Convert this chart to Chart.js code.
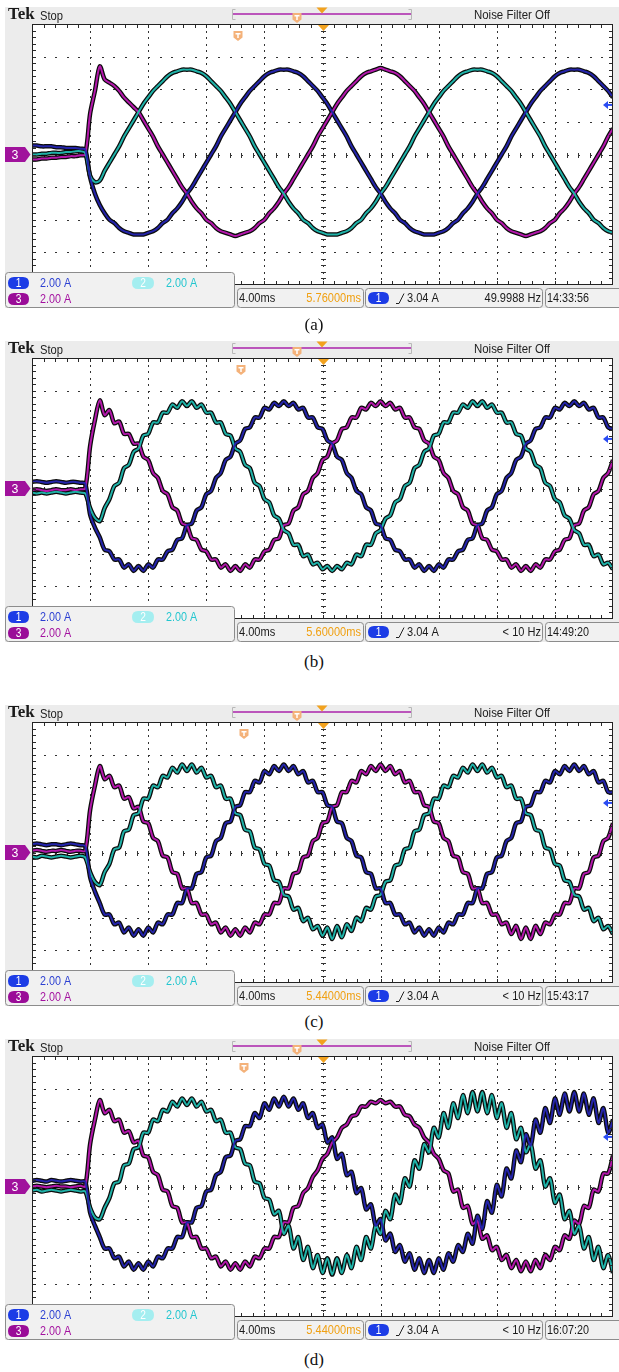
<!DOCTYPE html>
<html>
<head>
<meta charset="utf-8">
<script src="https://cdn.jsdelivr.net/npm/chart.js@4.4.1/dist/chart.umd.min.js"></script>
<style>
  body { margin: 0; background: #fff; }
  #page { position: relative; width: 619px; height: 1372px; overflow: hidden; }
  canvas { position: absolute; left: 0; }
  .cap { position: absolute; left: 0; width: 628px; text-align: center;
         font: 17px "Liberation Serif", "DejaVu Serif", serif; color: #111; line-height: 20px; }
</style>
</head>
<body>
<div id="page">
  <canvas id="scopeA" width="619" height="312" style="top:0px"></canvas>
  <canvas id="scopeB" width="619" height="312" style="top:334px"></canvas>
  <canvas id="scopeC" width="619" height="312" style="top:698px"></canvas>
  <canvas id="scopeD" width="619" height="312" style="top:1032px"></canvas>
  <div class="cap" style="top:315px">(a)</div>
  <div class="cap" style="top:652px">(b)</div>
  <div class="cap" style="top:1012px">(c)</div>
  <div class="cap" style="top:1350px">(d)</div>
</div>
<script>
// -------------------- Scope settings --------------------
const SAMPLE_MS = 1 / 3;          // one sample every 1/3 ms, 40 ms on screen
const panelIds = ["scopeA", "scopeB", "scopeC", "scopeD"];
const trigTimes = ["5.76000ms", "5.60000ms", "5.44000ms", "5.44000ms"];
const freqs = ["49.9988 Hz", "< 10 Hz", "< 10 Hz", "< 10 Hz"];
const clocks = ["14:33:56", "14:49:20", "15:43:17", "16:07:20"];
const trigMarks = [238, 241, 244, 244];

// -------------------- Phase currents, amps (2 A/div) --------------------
const blueA = [0.55,0.55,0.5,0.5,0.5,0.45,0.45,0.4,0.4,0.4,0.35,0.3,
  -1.4,-2.4,-3.1,-3.6,-4.0,-4.2,-4.5,-4.7,-4.8,-4.9,
  -4.9,-4.9,-4.8,-4.7,-4.5,-4.2,-4.0,-3.6,-3.3,-2.9,
  -2.4,-2.0,-1.5,-1.0,-0.5,0,0.5,1.1,1.6,2.1,
  2.6,3.1,3.5,3.9,4.2,4.5,4.8,5.0,5.1,5.2,
  5.2,5.2,5.1,5.0,4.8,4.5,4.2,3.9,3.5,3.1,
  2.6,2.1,1.6,1.1,0.5,0,-0.5,-1.0,-1.5,-2.0,
  -2.4,-2.9,-3.3,-3.6,-4.0,-4.2,-4.5,-4.7,-4.8,-4.9,
  -4.9,-4.9,-4.8,-4.7,-4.5,-4.2,-4.0,-3.6,-3.3,-2.9,
  -2.4,-2.0,-1.5,-1.0,-0.5,0,0.5,1.1,1.6,2.1,
  2.6,3.1,3.5,3.9,4.2,4.5,4.8,5.0,5.1,5.2,
  5.2,5.2,5.1,5.0,4.8,4.5,4.2,3.9,3.5];
const tealA = [0,0,0.05,0.05,0.1,0.1,0.1,0.15,0.15,0.2,0.2,0.1,
  -1.3,-1.7,-1.6,-1.0,-0.5,0,0.5,1.1,1.6,2.1,
  2.6,3.1,3.5,3.9,4.2,4.5,4.8,5.0,5.1,5.2,
  5.2,5.2,5.1,5.0,4.8,4.5,4.2,3.9,3.5,3.1,
  2.6,2.1,1.6,1.1,0.5,0,-0.5,-1.0,-1.5,-2.0,
  -2.4,-2.9,-3.3,-3.6,-4.0,-4.2,-4.5,-4.7,-4.8,-4.9,
  -4.9,-4.9,-4.8,-4.7,-4.5,-4.2,-4.0,-3.6,-3.3,-2.9,
  -2.4,-2.0,-1.5,-1.0,-0.5,0,0.5,1.1,1.6,2.1,
  2.6,3.1,3.5,3.9,4.2,4.5,4.8,5.0,5.1,5.2,
  5.2,5.2,5.1,5.0,4.8,4.5,4.2,3.9,3.5,3.1,
  2.6,2.1,1.6,1.1,0.5,0,-0.5,-1.0,-1.5,-2.0,
  -2.4,-2.9,-3.3,-3.6,-4.0,-4.2,-4.5,-4.7,-4.8];
const magA = [-0.3,-0.3,-0.25,-0.25,-0.2,-0.2,-0.15,-0.15,-0.1,-0.1,-0.05,0,
  2.5,3.9,5.4,4.6,4.4,4.2,3.9,3.5,3.2,2.9,
  2.6,2.1,1.6,1.1,0.5,0,-0.5,-1.0,-1.5,-2.0,
  -2.4,-2.9,-3.3,-3.6,-4.0,-4.2,-4.5,-4.7,-4.8,-4.9,
  -5.0,-4.9,-4.8,-4.7,-4.5,-4.2,-4.0,-3.6,-3.3,-2.9,
  -2.4,-2.0,-1.5,-1.0,-0.5,0,0.5,1.1,1.6,2.1,
  2.6,3.1,3.5,3.9,4.2,4.5,4.8,5.0,5.1,5.2,
  5.3,5.2,5.1,5.0,4.8,4.5,4.2,3.9,3.5,3.1,
  2.6,2.1,1.6,1.1,0.5,0,-0.5,-1.0,-1.5,-2.0,
  -2.4,-2.9,-3.3,-3.6,-4.0,-4.2,-4.5,-4.7,-4.8,-4.9,
  -5.0,-4.9,-4.8,-4.7,-4.5,-4.2,-4.0,-3.6,-3.3,-2.9,
  -2.4,-2.0,-1.5,-1.0,-0.5,0,0.5,1.1,1.6];

const blueB = [0.4,0.45,0.4,0.35,0.4,0.45,0.4,0.35,0.4,0.4,0.35,0.3,
  -1.6,-2.4,-3.0,-3.75,-3.85,-4.35,-4.35,-4.85,-4.65,-5.05,
  -4.75,-5.05,-4.65,-4.85,-4.35,-4.35,-3.85,-3.75,-3.15,-3.05,
  -2.25,-2.15,-1.35,-1.15,-0.35,-0.15,0.65,0.95,1.75,1.95,
  2.75,2.95,3.65,3.75,4.35,4.35,4.95,4.85,5.25,5.05,
  5.35,5.05,5.25,4.85,4.95,4.35,4.35,3.75,3.65,2.95,
  2.75,1.95,1.75,0.95,0.65,-0.15,-0.35,-1.15,-1.35,-2.15,
  -2.25,-3.05,-3.15,-3.75,-3.85,-4.35,-4.35,-4.85,-4.65,-5.05,
  -4.75,-5.05,-4.65,-4.85,-4.35,-4.35,-3.85,-3.75,-3.15,-3.05,
  -2.25,-2.15,-1.35,-1.15,-0.35,-0.15,0.65,0.95,1.75,1.95,
  2.75,2.95,3.65,3.75,4.35,4.35,4.95,4.85,5.25,5.05,
  5.35,5.05,5.25,4.85,4.95,4.35,4.35,3.75,3.65];
const tealB = [-0.25,-0.3,-0.25,-0.3,-0.25,-0.2,-0.25,-0.3,-0.25,-0.2,-0.25,-0.3,
  -1.2,-1.8,-2.0,-1.2,-0.65,0.15,0.35,1.25,1.45,2.25,
  2.45,3.25,3.35,4.05,4.05,4.65,4.65,5.15,4.95,5.35,
  5.05,5.35,4.95,5.15,4.65,4.65,4.05,4.05,3.35,3.25,
  2.45,2.25,1.45,1.25,0.35,0.15,-0.65,-0.85,-1.65,-1.85,
  -2.55,-2.75,-3.45,-3.45,-4.15,-4.05,-4.65,-4.55,-4.95,-4.75,
  -5.05,-4.75,-4.95,-4.55,-4.65,-4.05,-4.15,-3.45,-3.45,-2.75,
  -2.55,-1.85,-1.65,-0.85,-0.65,0.15,0.35,1.25,1.45,2.25,
  2.45,3.25,3.35,4.05,4.05,4.65,4.65,5.15,4.95,5.35,
  5.05,5.35,4.95,5.15,4.65,4.65,4.05,4.05,3.35,3.25,
  2.45,2.25,1.45,1.25,0.35,0.15,-0.65,-0.85,-1.65,-1.85,
  -2.55,-2.75,-3.45,-3.45,-4.15,-4.05,-4.65,-4.55,-4.95];
const magB = [-0.1,-0.05,-0.1,-0.15,-0.1,-0.05,-0.1,-0.1,-0.05,-0.1,-0.05,0,
  2.6,4.2,5.4,4.5,4.8,4.0,4.1,3.35,3.35,2.75,
  2.75,1.95,1.75,0.95,0.65,-0.15,-0.35,-1.15,-1.35,-2.15,
  -2.25,-3.05,-3.15,-3.75,-3.85,-4.35,-4.35,-4.85,-4.65,-5.05,
  -4.75,-5.05,-4.65,-4.85,-4.35,-4.35,-3.85,-3.75,-3.15,-3.05,
  -2.25,-2.15,-1.35,-1.15,-0.35,-0.15,0.65,0.95,1.75,1.95,
  2.75,2.95,3.65,3.75,4.35,4.35,4.95,4.85,5.25,5.05,
  5.35,5.05,5.25,4.85,4.95,4.35,4.35,3.75,3.65,2.95,
  2.75,1.95,1.75,0.95,0.65,-0.15,-0.35,-1.15,-1.35,-2.15,
  -2.25,-3.05,-3.15,-3.75,-3.85,-4.35,-4.35,-4.85,-4.65,-5.05,
  -4.75,-5.05,-4.65,-4.85,-4.35,-4.35,-3.85,-3.75,-3.15,-3.05,
  -2.25,-2.15,-1.35,-1.15,-0.35,-0.15,0.65,0.95,1.75];

const blueC = [0.5,0.55,0.5,0.45,0.5,0.5,0.45,0.5,0.55,0.5,0.45,0.4,
  -1.5,-2.4,-3.1,-3.8,-3.8,-4.4,-4.3,-4.9,-4.6,-5.1,
  -4.7,-5.1,-4.6,-4.9,-4.3,-4.4,-3.8,-3.8,-3.1,-3.1,
  -2.2,-2.2,-1.3,-1.2,-0.3,-0.2,0.7,0.9,1.8,1.9,
  2.8,2.9,3.7,3.7,4.4,4.3,5.0,4.8,5.3,5.0,
  5.4,5.0,5.3,4.8,5.0,4.3,4.4,3.7,3.7,2.9,
  2.8,1.9,1.8,0.9,0.7,-0.2,-0.3,-1.2,-1.3,-2.2,
  -2.2,-3.1,-3.1,-3.8,-3.8,-4.4,-4.3,-4.9,-4.6,-5.1,
  -4.7,-5.1,-4.6,-4.9,-4.3,-4.4,-3.8,-3.8,-3.1,-3.1,
  -2.2,-2.2,-1.3,-1.2,-0.3,-0.2,0.7,0.9,1.8,1.9,
  2.8,2.9,3.7,3.7,4.4,4.3,5.0,4.8,5.3,5.0,
  5.4,5.0,5.3,4.8,5.0,4.3,4.4,3.7,3.7];
const tealC = [-0.25,-0.3,-0.2,-0.25,-0.3,-0.25,-0.2,-0.25,-0.3,-0.25,-0.2,-0.3,
  -1.2,-1.8,-2.0,-1.2,-0.7,0.2,0.3,1.3,1.4,2.3,
  2.4,3.3,3.3,4.1,4.0,4.7,4.6,5.2,4.9,5.4,
  5.0,5.4,4.9,5.2,4.6,4.7,4.0,4.1,3.3,3.3,
  2.4,2.3,1.4,1.3,0.3,0.2,-0.7,-0.8,-1.7,-1.8,
  -2.6,-2.7,-3.5,-3.4,-4.2,-4.0,-4.7,-4.5,-5.1,-4.6,
  -5.3,-4.5,-5.2,-4.4,-4.8,-4.0,-4.2,-3.4,-3.5,-2.7,
  -2.6,-1.8,-1.7,-0.8,-0.7,0.2,0.3,1.3,1.4,2.3,
  2.4,3.3,3.3,4.1,4.0,4.7,4.6,5.2,4.9,5.4,
  5.0,5.4,4.9,5.2,4.6,4.7,4.0,4.1,3.3,3.3,
  2.4,2.3,1.4,1.3,0.3,0.2,-0.7,-0.8,-1.7,-1.8,
  -2.6,-2.7,-3.5,-3.4,-4.2,-4.0,-4.7,-4.5,-5.0];
const magC = [0.1,0.15,0.1,0.05,0.1,0.1,0.15,0.1,0.05,0.1,0.1,0.1,
  2.6,4.1,5.3,4.5,4.7,4.0,4.1,3.3,3.4,2.7,
  2.8,1.9,1.8,0.9,0.7,-0.2,-0.3,-1.2,-1.3,-2.2,
  -2.2,-3.1,-3.1,-3.8,-3.8,-4.4,-4.3,-4.9,-4.6,-5.1,
  -4.7,-5.1,-4.6,-4.9,-4.3,-4.4,-3.8,-3.8,-3.1,-3.1,
  -2.2,-2.2,-1.3,-1.2,-0.3,-0.2,0.7,0.9,1.8,1.9,
  2.8,2.9,3.7,3.7,4.4,4.3,5.0,4.8,5.3,5.0,
  5.4,5.0,5.3,4.8,5.0,4.3,4.4,3.7,3.7,2.9,
  2.8,1.9,1.8,0.9,0.7,-0.2,-0.3,-1.2,-1.3,-2.2,
  -2.2,-3.1,-3.1,-3.8,-3.8,-4.4,-4.3,-5.0,-4.5,-5.3,
  -4.6,-5.3,-4.5,-5.0,-4.3,-4.4,-3.8,-3.8,-3.1,-3.1,
  -2.2,-2.2,-1.3,-1.2,-0.3,-0.2,0.7,0.9,1.8];

const blueD = [0.35,0.4,0.35,0.3,0.4,0.35,0.3,0.35,0.4,0.35,0.3,0.3,
  -1.6,-2.4,-3.1,-3.8,-3.8,-4.4,-4.3,-4.9,-4.6,-5.1,
  -4.7,-5.1,-4.6,-4.9,-4.3,-4.4,-3.8,-3.8,-3.1,-3.1,
  -2.2,-2.2,-1.3,-1.2,-0.3,-0.2,0.7,0.9,1.8,1.9,
  2.8,2.9,3.7,3.7,4.5,4.2,5.1,4.7,5.4,4.9,
  5.5,4.9,5.4,4.7,5.1,4.2,4.5,3.6,3.8,2.7,
  3.0,1.7,2.0,0.7,0.9,-0.4,-0.1,-1.4,-1.1,-2.4,
  -2.0,-3.3,-2.9,-4.0,-3.6,-4.6,-4.1,-5.1,-4.4,-5.3,
  -4.5,-5.3,-4.4,-5.1,-4.1,-4.6,-3.6,-4.0,-2.9,-3.5,
  -1.8,-2.6,-0.9,-1.6,0.1,-0.6,1.1,0.5,2.2,1.5,
  3.2,2.5,4.1,3.3,4.8,3.9,5.4,4.4,5.7,4.6,
  5.8,4.6,5.7,4.4,5.4,3.9,4.8,3.3,4.1];
const tealD = [-0.25,-0.2,-0.3,-0.25,-0.2,-0.25,-0.3,-0.25,-0.2,-0.25,-0.3,-0.3,
  -1.3,-1.9,-2.0,-1.3,-0.7,0.2,0.3,1.3,1.4,2.3,
  2.4,3.3,3.3,4.1,4.0,4.7,4.6,5.2,4.9,5.4,
  5.0,5.4,4.9,5.2,4.6,4.7,4.0,4.1,3.3,3.3,
  2.4,2.3,1.4,1.3,0.3,0.2,-0.7,-0.8,-1.7,-1.5,
  -2.9,-2.4,-3.8,-3.1,-4.5,-3.7,-5.0,-4.2,-5.3,-4.4,
  -5.4,-4.4,-5.3,-4.2,-5.0,-3.7,-4.5,-3.1,-3.8,-2.4,
  -2.9,-1.5,-2.0,-0.5,-1.0,0.5,0,1.6,1.1,2.6,
  2.1,3.6,3.0,4.5,3.6,5.1,4.2,5.6,4.5,5.8,
  4.6,5.8,4.5,5.6,4.2,5.1,3.6,4.5,2.9,3.6,
  2.1,2.6,1.1,1.6,0,0.5,-1.0,-0.5,-2.0,-1.5,
  -2.9,-2.4,-3.8,-3.1,-4.5,-3.7,-5.0,-4.2,-5.3];
const magD = [0,0.05,0,-0.05,0,0.05,0,0,-0.05,0,0.05,0,
  2.6,4.1,5.3,4.5,4.7,4.0,4.1,3.3,3.4,2.7,
  2.8,1.9,1.8,0.9,0.7,-0.2,-0.3,-1.2,-1.3,-2.2,
  -2.2,-3.1,-3.1,-3.8,-3.8,-4.4,-4.3,-4.9,-4.6,-5.1,
  -4.7,-5.1,-4.6,-4.9,-4.3,-4.4,-3.8,-3.8,-3.1,-3.1,
  -2.2,-2.2,-1.3,-1.2,-0.4,-0.1,0.6,1.0,1.7,2.0,
  2.7,3.0,3.6,3.8,4.3,4.4,4.9,4.9,5.2,5.1,
  5.3,5.1,5.2,4.9,4.9,4.4,4.3,3.8,3.6,3.0,
  2.7,2.0,1.7,1.0,0.8,-0.3,-0.2,-1.3,-1.2,-2.3,
  -2.1,-3.2,-3.0,-3.9,-3.7,-4.5,-4.2,-5.0,-4.5,-5.2,
  -4.6,-5.2,-4.5,-5.0,-4.2,-4.5,-3.7,-3.9,-3.0,-3.2,
  -2.1,-2.3,-1.2,-1.3,-0.2,-0.3,0.8,0.8,1.9];

const panelData = [
  [blueA, tealA, magA],
  [blueB, tealB, magB],
  [blueC, tealC, magC],
  [blueD, tealD, magD]
];
const traceColors = ["#2424aa", "#1fb2a8", "#b317ab"];


// -------------------- Small drawing helpers --------------------
function label(ctx, str, x, y, font, color, align, sx) {
  ctx.save();
  ctx.font = font;
  ctx.fillStyle = color;
  ctx.textBaseline = "middle";
  ctx.textAlign = align || "left";
  ctx.translate(x, y);
  ctx.scale(sx || 1, 1);
  ctx.fillText(str, 0, 0);
  ctx.restore();
}

function rounded(ctx, x, y, w, h, r) {
  ctx.beginPath();
  ctx.moveTo(x + r, y);
  ctx.lineTo(x + w - r, y);
  ctx.quadraticCurveTo(x + w, y, x + w, y + r);
  ctx.lineTo(x + w, y + h - r);
  ctx.quadraticCurveTo(x + w, y + h, x + w - r, y + h);
  ctx.lineTo(x + r, y + h);
  ctx.quadraticCurveTo(x, y + h, x, y + h - r);
  ctx.lineTo(x, y + r);
  ctx.quadraticCurveTo(x, y, x + r, y);
  ctx.closePath();
}

function box(ctx, x, y, w, h) {
  rounded(ctx, x + 0.5, y + 0.5, w, h, 3);
  ctx.fillStyle = "#f1f1f1";
  ctx.fill();
  ctx.strokeStyle = "#8c8c8c";
  ctx.lineWidth = 1;
  ctx.stroke();
}

function pill(ctx, x, y, w, fill, txt) {
  rounded(ctx, x, y, w, 12, 6);
  ctx.fillStyle = fill;
  ctx.fill();
  label(ctx, txt, x + w / 2, y + 6.5, "12px 'Liberation Sans', sans-serif", "#fff", "center", 0.85);
}

function tMarker(ctx, x, y) {
  ctx.beginPath();
  ctx.moveTo(x - 4.5, y - 5);
  ctx.lineTo(x + 4.5, y - 5);
  ctx.lineTo(x + 4.5, y + 1.5);
  ctx.lineTo(x, y + 5);
  ctx.lineTo(x - 4.5, y + 1.5);
  ctx.closePath();
  ctx.fillStyle = "#f4b27a";
  ctx.fill();
  ctx.fillStyle = "#fff";
  ctx.fillRect(x - 2.5, y - 3, 5, 1.5);
  ctx.fillRect(x - 0.75, y - 3, 1.5, 5);
}

function downTri(ctx, x, y) {
  ctx.beginPath();
  ctx.moveTo(x - 5.5, y);
  ctx.lineTo(x + 5.5, y);
  ctx.lineTo(x, y + 6);
  ctx.closePath();
  ctx.fillStyle = "#f2a21e";
  ctx.fill();
}


// -------------------- Scope screen plugin --------------------
const scopeFrame = {
  id: "scopeFrame",
  beforeDraw(chart, args, o) {
    const ctx = chart.ctx, a = chart.chartArea;
    ctx.save();
    ctx.fillStyle = "#fff";
    ctx.fillRect(0, 0, chart.width, chart.height);
    ctx.fillStyle = "#ececec";
    ctx.fillRect(5, 7, chart.width - 5, 301);
    ctx.fillStyle = "#fff";
    ctx.fillRect(a.left, a.top, a.right - a.left, a.bottom - a.top);

    // header
    label(ctx, "Tek", 8, 15, "bold 17px 'Liberation Serif', serif", "#1a1a1a", "left", 1);
    label(ctx, "Stop", 40, 16, "13px 'Liberation Sans', sans-serif", "#222", "left", 0.86);
    label(ctx, "Noise Filter Off", 512, 15, "13px 'Liberation Sans', sans-serif", "#222", "center", 0.88);
    ctx.strokeStyle = "#b8b8b8";
    ctx.lineWidth = 1;
    ctx.beginPath();
    ctx.moveTo(235.5, 9.5); ctx.lineTo(232.5, 9.5); ctx.lineTo(232.5, 19.5); ctx.lineTo(235.5, 19.5);
    ctx.moveTo(408.5, 9.5); ctx.lineTo(411.5, 9.5); ctx.lineTo(411.5, 19.5); ctx.lineTo(408.5, 19.5);
    ctx.stroke();
    ctx.fillStyle = "#bb55bb";
    ctx.fillRect(233, 13, 178, 2);
    tMarker(ctx, 297, 18);
    downTri(ctx, 322, 7.5);
    ctx.restore();
  },
  beforeDatasetsDraw(chart, args, o) {
    const ctx = chart.ctx, a = chart.chartArea;
    const xs = chart.scales.x, ys = chart.scales.y;
    ctx.save();
    ctx.fillStyle = "#333";
    // dotted grid, 5 dots per division
    for (let d = 1; d < 10; d++) {
      const px = Math.round(xs.getPixelForValue(d * 4));
      for (let k = 1; k < 40; k++) {
        ctx.fillRect(px, Math.round(ys.getPixelForValue(-8 + k * 0.4)), 1, 2);
      }
    }
    for (let d = 1; d < 8; d++) {
      const py = Math.round(ys.getPixelForValue(-8 + d * 2));
      for (let k = 1; k < 50; k++) {
        ctx.fillRect(Math.round(xs.getPixelForValue(k * 0.8)), py, 2, 1);
      }
    }
    // centre cross ticks
    const cx = Math.round(xs.getPixelForValue(20));
    const cy = Math.round(ys.getPixelForValue(0));
    for (let k = 1; k < 40; k++) {
      ctx.fillRect(cx - 2, Math.round(ys.getPixelForValue(-8 + k * 0.4)), 5, 1);
    }
    for (let k = 1; k < 50; k++) {
      ctx.fillRect(Math.round(xs.getPixelForValue(k * 0.8)), cy - 2, 1, 5);
    }
    tMarker(ctx, o.tmark, 36);
    ctx.restore();
  },
  afterDatasetsDraw(chart, args, o) {
    const ctx = chart.ctx, a = chart.chartArea;
    const xs = chart.scales.x, ys = chart.scales.y;
    ctx.save();
    // border with minor ticks
    ctx.fillStyle = "#2a2a2a";
    for (let k = 1; k < 50; k++) {
      const px = Math.round(xs.getPixelForValue(k * 0.8));
      ctx.fillRect(px, a.top, 1, 4);
      ctx.fillRect(px, a.bottom - 4, 1, 4);
    }
    for (let k = 1; k < 40; k++) {
      const py = Math.round(ys.getPixelForValue(-8 + k * 0.4));
      ctx.fillRect(a.left, py, 4, 1);
      ctx.fillRect(a.right - 4, py, 4, 1);
    }
    ctx.strokeStyle = "#222";
    ctx.lineWidth = 1;
    ctx.strokeRect(a.left + 0.5, a.top + 0.5, a.right - a.left - 1, a.bottom - a.top - 1);
    downTri(ctx, Math.round(xs.getPixelForValue(20)) + 0.5, a.top + 1);

    // channel 3 ground marker
    const gy = ys.getPixelForValue(0);
    ctx.beginPath();
    ctx.moveTo(5, gy - 7.5);
    ctx.lineTo(25, gy - 7.5);
    ctx.lineTo(30.5, gy);
    ctx.lineTo(25, gy + 7.5);
    ctx.lineTo(5, gy + 7.5);
    ctx.closePath();
    ctx.fillStyle = "#a0129c";
    ctx.fill();
    label(ctx, "3", 15, gy + 0.5, "13px 'Liberation Sans', sans-serif", "#fff", "center", 0.95);

    // trigger level arrow
    const ty = ys.getPixelForValue(3.04);
    ctx.fillStyle = "#2a4cf2";
    ctx.beginPath();
    ctx.moveTo(603, ty);
    ctx.lineTo(608, ty - 4);
    ctx.lineTo(608, ty + 4);
    ctx.closePath();
    ctx.fill();
    ctx.fillRect(607, ty - 1, 5, 2);

    // readout boxes
    const f = "13px 'Liberation Sans', sans-serif";
    box(ctx, 5, 272, 229, 35);
    pill(ctx, 8, 277, 21, "#1c3ce6", "1");
    label(ctx, "2.00 A", 40, 283, f, "#2b3fd2", "left", 0.83);
    pill(ctx, 132, 277, 22, "#a4eef0", "2");
    label(ctx, "2.00 A", 166, 283, f, "#22c6cf", "left", 0.83);
    pill(ctx, 8, 293, 21, "#9a0c98", "3");
    label(ctx, "2.00 A", 40, 299, f, "#a3119f", "left", 0.83);

    box(ctx, 237, 288, 126, 19);
    label(ctx, "4.00ms", 239, 298, f, "#1a1a1a", "left", 0.85);
    label(ctx, o.trig, 361, 298, f, "#f0a012", "right", 0.85);

    box(ctx, 365, 288, 177, 19);
    pill(ctx, 368, 292, 21, "#1c3ce6", "1");
    ctx.strokeStyle = "#222";
    ctx.beginPath();
    ctx.moveTo(396, 303.5); ctx.lineTo(399, 303.5); ctx.lineTo(404, 293.5);
    ctx.stroke();
    label(ctx, "3.04 A", 407, 298, f, "#1a1a1a", "left", 0.85);
    label(ctx, o.freq, 541, 298, f, "#1a1a1a", "right", 0.85);

    box(ctx, 545, 288, 80, 19);
    label(ctx, o.clock, 547, 298, f, "#1a1a1a", "left", 0.83);
    ctx.restore();
  }
};


// -------------------- Build the four captures --------------------
function toPoints(arr) {
  return arr.map((v, i) => ({ x: i * SAMPLE_MS, y: v }));
}

panelIds.forEach((id, p) => {
  const series = panelData[p];
  const cores = series.map((arr, s) => ({
    data: toPoints(arr),
    borderColor: traceColors[s],
    borderWidth: 2,
    pointRadius: 0,
    tension: 0.3
  }));
  const halos = series.map((arr) => ({
    data: toPoints(arr),
    borderColor: "#0b0b0b",
    borderWidth: 4.5,
    pointRadius: 0,
    tension: 0.3
  }));

  new Chart(document.getElementById(id), {
    type: "line",
    data: { datasets: cores.concat(halos) },
    options: {
      responsive: false,
      animation: false,
      devicePixelRatio: 1,
      events: [],
      layout: { padding: { left: 32, right: 6, top: 24, bottom: 27 } },
      scales: {
        x: { type: "linear", display: false, min: 0, max: 40 },
        y: { type: "linear", display: false, min: -8, max: 8 }
      },
      plugins: {
        legend: { display: false },
        tooltip: { enabled: false },
        scopeFrame: {
          trig: trigTimes[p],
          freq: freqs[p],
          clock: clocks[p],
          tmark: trigMarks[p]
        }
      }
    },
    plugins: [scopeFrame]
  });
});
</script>
</body>
</html>
